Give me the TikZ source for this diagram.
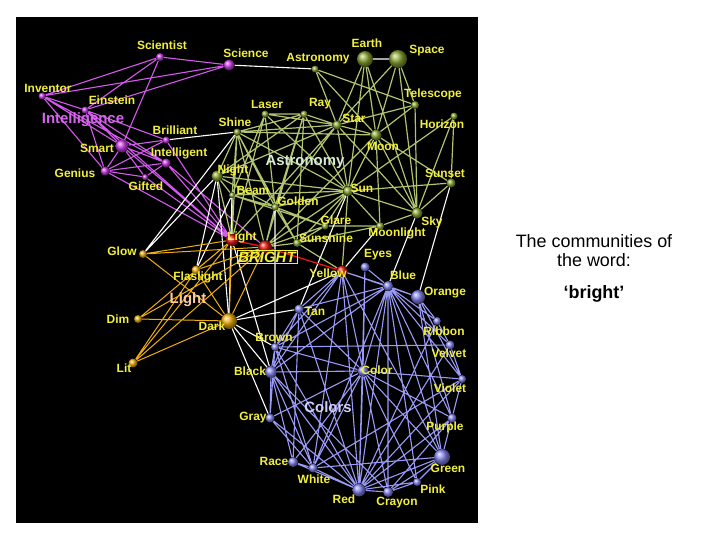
\documentclass[tikz,border=0pt]{standalone}
\usepackage{fontspec}
\setmainfont{Liberation Sans}
\usetikzlibrary{positioning}
\pgfdeclarelayer{back}
\pgfdeclarelayer{links}
\pgfsetlayers{back,links,main}

\definecolor{wordY}{RGB}{242,240,60}
\definecolor{intM}{RGB}{205,60,235}
\definecolor{astG}{RGB}{140,170,50}
\definecolor{lgtY}{RGB}{240,175,10}
\definecolor{colB}{RGB}{135,135,245}
\definecolor{brR}{RGB}{235,25,15}

\tikzset{
  mag/.style={circle,inner sep=0pt,minimum size=#1,ball color=intM},
  olv/.style={circle,inner sep=0pt,minimum size=#1,ball color=astG},
  amb/.style={circle,inner sep=0pt,minimum size=#1,ball color=lgtY},
  lav/.style={circle,inner sep=0pt,minimum size=#1,ball color=colB},
  hot/.style={circle,inner sep=0pt,minimum size=#1,ball color=brR},
  word/.style={text=wordY,font=\bfseries\fontsize{12}{14}\selectfont,inner sep=0pt},
  grp/.style={font=\bfseries\fontsize{15}{17}\selectfont,inner sep=0pt},
  mline/.style={draw=intM!85!white,line width=1.1pt},
  gline/.style={draw=astG!70!white,line width=1.2pt},
  yline/.style={draw=lgtY,line width=1pt},
  bline/.style={draw=colB!85!white,line width=1.1pt},
  wline/.style={draw=white,line width=1.1pt},
  rline/.style={draw=brR,line width=1.3pt}
}

\begin{document}
\begin{tikzpicture}[x=1bp,y=-1bp]
\useasboundingbox (0,0) rectangle (720,540);
\begin{pgfonlayer}{back}
\fill[black] (16,17) rectangle (478,523);
\end{pgfonlayer}

% intelligence
\node[mag=8] (scientist) at (160,57) {};
\node[mag=11] (science) at (229,65) {};
\node[mag=7] (inventor) at (42,96) {};
\node[mag=7] (einstein) at (85,110) {};
\node[mag=7] (brilliant) at (166,140) {};
\node[mag=13] (smart) at (122,146) {};
\node[mag=9] (intelligent) at (166,163) {};
\node[mag=9] (genius) at (105,171) {};
\node[mag=6] (gifted) at (145,177) {};

% astronomy
\node[olv=7] (astro) at (315,69) {};
\node[olv=16] (earth) at (365,59) {};
\node[olv=18] (space) at (398,59) {};
\node[olv=8] (telescope) at (415,105) {};
\node[olv=7] (laser) at (265,114) {};
\node[olv=7] (ray) at (304,114) {};
\node[olv=9] (star) at (337,125) {};
\node[olv=7] (horizon) at (454,116) {};
\node[olv=7] (shine) at (237,132) {};
\node[olv=11] (moon) at (376,135) {};
\node[olv=11] (night) at (217,176) {};
\node[olv=9] (sunset) at (451,183) {};
\node[olv=6] (beam) at (232,195) {};
\node[olv=10] (sun) at (348,191) {};
\node[olv=7] (golden) at (275,207) {};
\node[olv=7] (glare) at (325,226) {};
\node[olv=11] (sky) at (417,213) {};
\node[olv=8] (moonlight) at (380,226) {};
\node[olv=8] (sunshine) at (297,243) {};

% bright
\node[hot=12] (light) at (232,240) {};
\node[hot=13] (bright) at (265,247) {};
\node[hot=11] (yellow) at (342,271) {};

% light
\node[amb=8] (glow) at (143,254) {};
\node[amb=9] (flash) at (196,270) {};
\node[amb=8] (dim) at (138,319) {};
\node[amb=16] (dark) at (229,321) {};
\node[amb=9] (lit) at (133,363) {};

% colors
\node[lav=9] (eyes) at (365,267) {};
\node[lav=10] (blue) at (388,286) {};
\node[lav=14] (orange) at (418,297) {};
\node[lav=9] (tan) at (299,309) {};
\node[lav=8] (ribbon) at (437,321) {};
\node[lav=8] (brown) at (275,347) {};
\node[lav=9] (velvet) at (450,345) {};
\node[lav=12] (black) at (271,372) {};
\node[lav=11] (color) at (363,371) {};
\node[lav=8] (violet) at (462,379) {};
\node[lav=9] (gray) at (270,418) {};
\node[lav=9] (purple) at (452,418) {};
\node[lav=10] (race) at (293,462) {};
\node[lav=16] (green) at (442,457) {};
\node[lav=9] (white) at (313,468) {};
\node[lav=8] (pink) at (417,482) {};
\node[lav=13] (red) at (359,490) {};
\node[lav=10] (crayon) at (388,492) {};

\begin{pgfonlayer}{links}
\draw[mline] (scientist) -- (science) (inventor) -- (scientist) (inventor) -- (science)
  (einstein) -- (scientist) (einstein) -- (science) (inventor) -- (einstein)
  (inventor) -- (smart) (inventor) -- (genius) (inventor) -- (intelligent)
  (scientist) -- (smart) (einstein) -- (smart) (einstein) -- (genius)
  (einstein) -- (brilliant) (einstein) -- (intelligent) (smart) -- (brilliant)
  (smart) -- (intelligent) (smart) -- (genius) (smart) -- (gifted)
  (genius) -- (brilliant) (genius) -- (intelligent) (genius) -- (gifted)
  (gifted) -- (intelligent) (smart) -- (light) (genius) -- (light)
  (intelligent) -- (light) (brilliant) -- (light) (einstein) -- (light)
  (gifted) -- (light) (intelligent) -- (bright);
\draw[gline] (astro) -- (star) (astro) -- (telescope) (astro) -- (moon)
  (earth) -- (star) (earth) -- (moon) (earth) -- (sky) (earth) -- (sun)
  (space) -- (moon) (space) -- (star) (space) -- (telescope) (space) -- (sky)
  (telescope) -- (star) (telescope) -- (moon) (telescope) -- (sky)
  (horizon) -- (sunset) (horizon) -- (sky) (horizon) -- (sun)
  (star) -- (moon) (star) -- (sun) (star) -- (shine) (star) -- (sky)
  (star) -- (laser) (star) -- (ray) (star) -- (night) (star) -- (golden)
  (moon) -- (sun) (moon) -- (sky) (moon) -- (moonlight) (moon) -- (shine)
  (moon) -- (sunset) (sun) -- (sunset) (sun) -- (sky) (sun) -- (shine)
  (sun) -- (ray) (sun) -- (laser) (sun) -- (night) (sun) -- (beam)
  (sun) -- (golden) (sun) -- (glare) (sun) -- (sunshine) (sun) -- (moonlight)
  (shine) -- (ray) (shine) -- (night) (shine) -- (golden) (shine) -- (sunshine)
  (shine) -- (beam) (laser) -- (ray) (laser) -- (beam) (laser) -- (golden)
  (ray) -- (night) (ray) -- (golden) (ray) -- (sunshine)
  (night) -- (beam) (night) -- (golden) (beam) -- (golden) (beam) -- (glare)
  (golden) -- (glare) (golden) -- (sunshine) (glare) -- (sunshine)
  (sky) -- (moonlight) (sky) -- (sunset) (moonlight) -- (glare) (moonlight) -- (sunshine)
  (light) -- (shine) (light) -- (laser) (light) -- (night) (light) -- (beam)
  (light) -- (star) (bright) -- (sun) (bright) -- (sunshine) (bright) -- (golden)
  (bright) -- (ray) (bright) -- (glare) (bright) -- (shine) (bright) -- (moon)
  (yellow) -- (sunshine) (yellow) -- (sun);
\draw[wline] (science) -- (astro) (earth) -- (space) (brilliant) -- (shine)
  (glow) -- (night) (glow) -- (shine) (flash) -- (night) (flash) -- (beam)
  (night) -- (dark) (beam) -- (dark) (golden) -- (brown) (light) -- (black)
  (dark) -- (tan) (dark) -- (yellow) (dark) -- (brown) (dark) -- (black)
  (dark) -- (gray) (sun) -- (tan) (moonlight) -- (yellow) (sky) -- (blue)
  (sunset) -- (orange);
\draw[yline] (glow) -- (light) (glow) -- (bright) (glow) -- (dark)
  (flash) -- (light) (flash) -- (bright) (flash) -- (dark) (flash) -- (lit)
  (dim) -- (dark) (dim) -- (light) (dim) -- (bright) (lit) -- (dark)
  (lit) -- (light) (lit) -- (bright) (light) -- (dark) (bright) -- (dark);
\draw[bline] (yellow) -- (blue) (yellow) -- (tan) (yellow) -- (color)
  (yellow) -- (black) (yellow) -- (brown) (yellow) -- (red) (yellow) -- (green)
  (yellow) -- (orange) (yellow) -- (white) (eyes) -- (blue) (eyes) -- (color)
  (eyes) -- (red) (blue) -- (orange) (blue) -- (ribbon) (blue) -- (velvet)
  (blue) -- (violet) (blue) -- (purple) (blue) -- (green) (blue) -- (pink)
  (blue) -- (red) (blue) -- (crayon) (blue) -- (color) (blue) -- (white)
  (blue) -- (brown) (blue) -- (black) (blue) -- (tan)
  (orange) -- (ribbon) (orange) -- (green) (orange) -- (purple) (orange) -- (violet)
  (tan) -- (brown) (tan) -- (black) (tan) -- (color) (tan) -- (red) (tan) -- (race)
  (brown) -- (black) (brown) -- (color) (brown) -- (gray) (brown) -- (red)
  (brown) -- (white) (brown) -- (velvet) (black) -- (color) (black) -- (gray)
  (black) -- (race) (black) -- (white) (black) -- (red) (black) -- (crayon)
  (color) -- (red) (color) -- (crayon) (color) -- (pink) (color) -- (green)
  (color) -- (purple) (color) -- (violet) (color) -- (white) (color) -- (race)
  (color) -- (gray) (ribbon) -- (velvet) (ribbon) -- (red) (velvet) -- (violet)
  (velvet) -- (red) (violet) -- (purple) (violet) -- (red) (violet) -- (white)
  (purple) -- (green) (purple) -- (red) (purple) -- (crayon) (green) -- (pink)
  (green) -- (red) (green) -- (crayon) (green) -- (white) (pink) -- (red)
  (pink) -- (crayon) (red) -- (crayon) (red) -- (white) (red) -- (race)
  (red) -- (gray) (race) -- (white) (gray) -- (white);
\draw[rline] (light) -- (bright) -- (yellow);
\end{pgfonlayer}

% word labels
\node[word] (scientistT) at (162,45) {Scientist};
\node[word] (scienceT) at (246,53) {Science};
\node[word] (inventorT) at (48,88) {Inventor};
\node[word] (einsteinT) at (112,100) {Einstein};
\node[word] (brilliantT) at (175,130) {Brilliant};
\node[word] (smartT) at (97,148) {Smart};
\node[word] (intelligentT) at (179,153) {Intelligent};
\node[word] (geniusT) at (75,173) {Genius};
\node[word] (giftedT) at (146,186) {Gifted};
\node[word] (astroT) at (318,59) {Astronomy};
\node[word] (earthT) at (367,43) {Earth};
\node[word] (spaceT) at (427,51) {Space};
\node[word] (telescopeT) at (433,94) {Telescope};
\node[word] (laserT) at (267,104) {Laser};
\node[word] (rayT) at (320,104) {Ray};
\node[word] (starT) at (354,118) {Star};
\node[word] (horizonT) at (442,124) {Horizon};
\node[word] (shineT) at (235,122) {Shine};
\node[word] (moonT) at (383,146) {Moon};
\node[word] (nightT) at (233,170) {Night};
\node[word] (sunsetT) at (445,173) {Sunset};
\node[word] (beamT) at (253,190) {Beam};
\node[word] (sunT) at (362,188) {Sun};
\node[word] (goldenT) at (298,201) {Golden};
\node[word] (glareT) at (336,220) {Glare};
\node[word] (skyT) at (432,222) {Sky};
\node[word] (moonlightT) at (397,233) {Moonlight};
\node[word] (sunshineT) at (326,238) {Sunshine};
\node[word] (lightT) at (242,237) {Light};
\node[word,font=\bfseries\itshape\fontsize{15}{17}\selectfont,draw=wordY,line width=0.6pt,inner sep=1.5pt] (brightT) at (267,257) {BRIGHT};
\node[word] (yellowT) at (328,273) {Yellow};
\node[word] (glowT) at (122,251) {Glow};
\node[word] (flashT) at (198,277) {Flaslight};
\node[word] (dimT) at (118,319) {Dim};
\node[word] (darkT) at (212,326) {Dark};
\node[word] (litT) at (124,368) {Lit};
\node[word] (eyesT) at (378,255) {Eyes};
\node[word] (blueT) at (403,275) {Blue};
\node[word] (orangeT) at (445,293) {Orange};
\node[word] (tanT) at (315,311) {Tan};
\node[word] (ribbonT) at (444,331) {Ribbon};
\node[word] (brownT) at (274,337) {Brown};
\node[word] (velvetT) at (449,353) {Velvet};
\node[word] (blackT) at (250,371) {Black};
\node[word] (colorT) at (377,370) {Color};
\node[word] (violetT) at (450,388) {Violet};
\node[word] (grayT) at (253,418) {Gray};
\node[word] (purpleT) at (445,427) {Purple};
\node[word] (raceT) at (274,461) {Race};
\node[word] (greenT) at (448,468) {Green};
\node[word] (whiteT) at (314,479) {White};
\node[word] (pinkT) at (433,489) {Pink};
\node[word] (redT) at (344,499) {Red};
\node[word] (crayonT) at (397,503) {Crayon};

% community labels
\node[grp,text=intM!80!white] (intelG) at (83,120) {Intelligence};
\node[grp,text=green!10!white!85!gray] (astroG) at (305,162) {Astronomy};
\node[grp,text=orange!40!white] (lightG) at (188,300) {Light};
\node[grp,text=colB!40!white] (colorsG) at (328,407) {Colors};

% caption
\node[font=\fontsize{18}{20}\selectfont] (cap1) at (594,241) {The communities of};
\node[font=\fontsize{18}{20}\selectfont] (cap2) at (594,260) {the word:};
\node[font=\bfseries\fontsize{18}{20}\selectfont] (cap3) at (594,294) {‘bright’};
\end{tikzpicture}
\end{document}
